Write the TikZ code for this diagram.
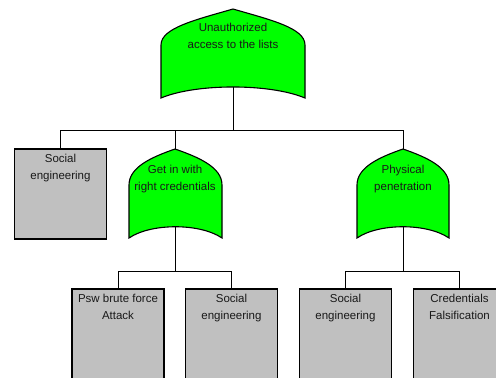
\documentclass[tikz,border=0pt]{standalone}
\usepackage{fontspec}
\setmainfont{Liberation Sans}
\definecolor{gatefill}{HTML}{00FF00}
\definecolor{boxfill}{HTML}{C0C0C0}
\begin{document}
\begin{tikzpicture}[x=1pt,y=-1pt,
  gatestyle/.style={draw=black, line width=1.1pt, fill=gatefill},
  boxstyle/.style={draw=black, line width=1.6pt, fill=boxfill, rectangle, inner sep=0pt, minimum width=92pt, minimum height=92pt},
  lbl/.style={font=\fontsize{11.5}{17}\selectfont, align=center, inner sep=0pt, anchor=north, text=black!90},
  wire/.style={draw=black, line width=0.8pt}]
\useasboundingbox (0,0) rectangle (496,378);
\clip (0,0) rectangle (496,378);
% named points
\coordinate (g0bot) at (233,87);
\coordinate (g1top) at (175,149);
\coordinate (g1bot) at (175,227);
\coordinate (g2top) at (403,149);
\coordinate (g2bot) at (403,227);
\coordinate (bus0) at (233,130);
\coordinate (bus1) at (175,271);
\coordinate (bus2) at (403,271);
% boxes
\node[boxstyle, minimum height=90pt, anchor=north] (b0) at (60.5,148) {};
\node[boxstyle, minimum height=110pt, anchor=north] (b1) at (118,288) {};
\node[boxstyle, minimum height=110pt, anchor=north] (b2) at (231.5,288) {};
\node[boxstyle, minimum height=110pt, anchor=north] (b3) at (345.5,288) {};
\node[boxstyle, minimum height=110pt, anchor=north] (b4) at (459.5,288) {};
% connectors
\draw[wire] (g0bot) -- (bus0);
\draw[wire] (b0.north) -- (b0.north |- bus0) -- (g2top |- bus0) -- (g2top);
\draw[wire] (g1top |- bus0) -- (g1top);
\draw[wire] (g1bot) -- (bus1);
\draw[wire] (b1.north) -- (b1.north |- bus1) -- (b2.north |- bus1) -- (b2.north);
\draw[wire] (g2bot) -- (bus2);
\draw[wire] (b3.north) -- (b3.north |- bus2) -- (b4.north |- bus2) -- (b4.north);
% top gate
\path[gatestyle] (161,98) -- (161,45) .. controls (161,28) and (195,20) .. (233,9)
  .. controls (271,20) and (305,28) .. (305,45) -- (305,98)
  .. controls (270,83.3) and (196,83.3) .. (161,98) -- cycle;
\node[lbl] (t0) at (233,23) {Unauthorized\\access to the lists};
% gate 1
\path[gatestyle] (129,238) -- (129,185) .. controls (129,167) and (152,157) .. (175,149)
  .. controls (198,157) and (222,167) .. (222,185) -- (222,238)
  .. controls (200,223) and (151,223) .. (129,238) -- cycle;
\node[lbl] (t1) at (175,165) {Get in with\\right credentials};
% gate 2
\path[gatestyle] (357,238) -- (357,185) .. controls (357,167) and (380,157) .. (403,149)
  .. controls (426,157) and (449,167) .. (449,185) -- (449,238)
  .. controls (427,223) and (379,223) .. (357,238) -- cycle;
\node[lbl] (t2) at (403,165) {Physical\\penetration};
% box labels
\node[lbl] at ([yshift=-6pt]b0.north) {Social\\engineering};
\node[lbl] at ([yshift=-6pt]b1.north) {Psw brute force\\Attack};
\node[lbl] at ([yshift=-6pt]b2.north) {Social\\engineering};
\node[lbl] at ([yshift=-6pt]b3.north) {Social\\engineering};
\node[lbl] at ([yshift=-6pt]b4.north) {Credentials\\Falsification};
\end{tikzpicture}
\end{document}
